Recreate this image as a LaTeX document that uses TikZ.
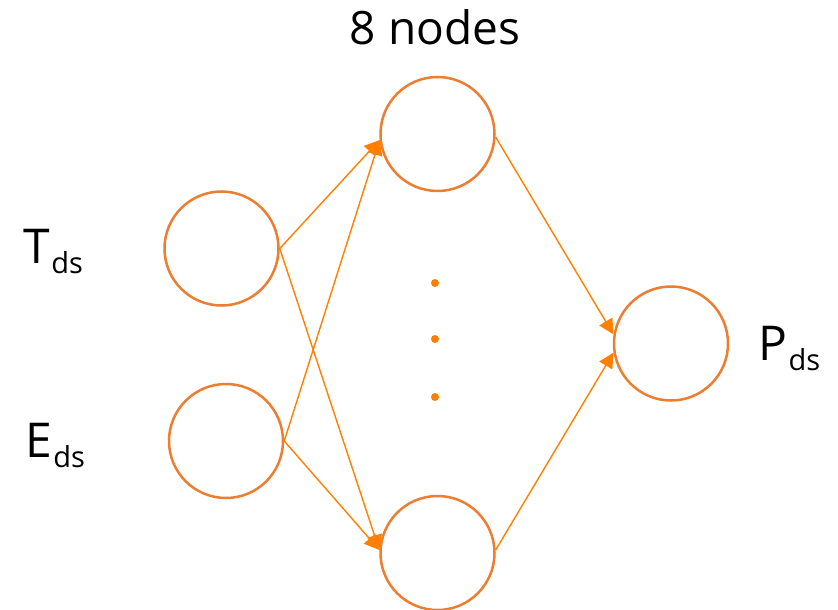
\documentclass[tikz,border=0pt]{standalone}
\usepackage{fontspec}
\setmainfont{Open Sans}
\usetikzlibrary{arrows.meta}
\definecolor{ringorange}{HTML}{ED7D31}
\definecolor{linkorange}{HTML}{FF7F00}
\newcommand{\bigtxt}{\fontsize{48}{56}\selectfont}
\newcommand{\subtxt}[1]{\kern1.5pt\raisebox{-10pt}{\fontsize{29}{32}\selectfont #1}}

\begin{document}
\begin{tikzpicture}[x=1pt,y=-1pt,
    neuron/.style={circle,draw=ringorange,line width=2.5pt,minimum size=114pt,inner sep=0pt},
    link/.style={draw=linkorange,line width=1.4pt,-{Triangle[length=15pt,width=15pt]}},
    lbl/.style={anchor=base west,inner sep=0pt,font=\bigtxt}]
      \useasboundingbox (0,0) rectangle (838,610);
      \node [neuron] (1) at (221.5,248.5) {};
      \node [neuron] (2) at (226,441) {};
      \node [neuron] (3) at (437.5,134) {};
      \node [neuron] (4) at (437.5,553) {};
      \node [neuron] (5) at (671,343.5) {};
      \node [lbl] (t) at (23,263) {T\subtxt{ds}};
      \node [lbl] (e) at (25,457) {E\subtxt{ds}};
      \node [lbl] (p) at (758,360) {P\subtxt{ds}};
      \node [anchor=base,inner sep=0pt,font=\fontsize{46}{54}\selectfont] (n) at (435,45) {8 nodes};
      \foreach \y in {283,339,397}
        \fill [linkorange] (435,\y) circle (4pt);

      \draw [link] (1.east) -- (3.186);
      \draw [link] (1.east) -- (4.177);
      \draw [link] (2.east) -- (3.186);
      \draw [link] (2.east) -- (4.177);
      \draw [link] (3.357) -- (5.171);
      \draw [link] (4.3) -- (5.189);
    \end{tikzpicture}
\end{document}
